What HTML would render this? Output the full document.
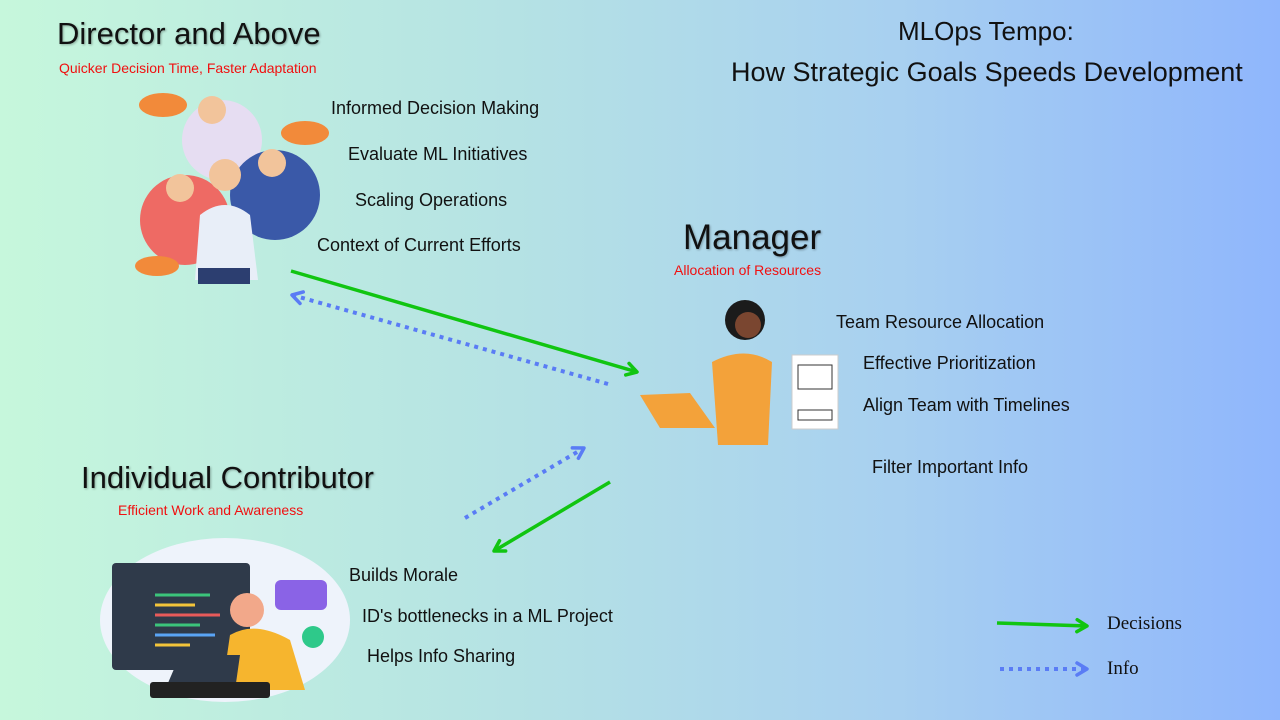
<!DOCTYPE html>
<html><head><meta charset="utf-8"><style>
body{margin:0}
#c{position:relative;width:1280px;height:720px;overflow:hidden;background:linear-gradient(90deg,#c6f7dc 0%,#b5e2e4 40%,#a8d0f0 70%,#8fb6fc 100%);font-family:"Liberation Sans",sans-serif;color:#111}
.t{position:absolute;white-space:nowrap}
.h{font-size:31px;text-shadow:1px 1px 2px rgba(0,0,0,.3)}
.s{font-size:14px;color:#f01010}
.b{font-size:18px}
.lg{font-family:"Liberation Serif",serif;font-size:19px}
</style></head><body><div id="c">
<svg width="1280" height="720" style="position:absolute;left:0;top:0">
<defs>
<marker id="g" markerWidth="16" markerHeight="16" refX="13" refY="8" orient="auto" markerUnits="userSpaceOnUse"><path d="M3,2 L13,8 L3,14" fill="none" stroke="#11c511" stroke-width="3.5" stroke-linecap="round" stroke-linejoin="round"/></marker>
<marker id="bl" markerWidth="16" markerHeight="16" refX="13" refY="8" orient="auto" markerUnits="userSpaceOnUse"><path d="M3,2 L13,8 L3,14" fill="none" stroke="#5a7cf5" stroke-width="3.5" stroke-linecap="round" stroke-linejoin="round"/></marker>
</defs>
<g stroke-width="3.5" fill="none">
<line x1="291" y1="271" x2="637" y2="372" stroke="#11c511" marker-end="url(#g)"/>
<line x1="608" y1="384" x2="292" y2="295" stroke="#5a7cf5" stroke-width="4" stroke-dasharray="4,5" marker-end="url(#bl)"/>
<line x1="465" y1="518" x2="584" y2="448" stroke="#5a7cf5" stroke-width="4" stroke-dasharray="4,5" marker-end="url(#bl)"/>
<line x1="610" y1="482" x2="494" y2="551" stroke="#11c511" marker-end="url(#g)"/>
<line x1="997" y1="623" x2="1087" y2="626" stroke="#11c511" marker-end="url(#g)"/>
<line x1="1000" y1="669" x2="1087" y2="669" stroke="#5a7cf5" stroke-width="4" stroke-dasharray="4,5" marker-end="url(#bl)"/>
</g>
<circle cx="222" cy="140" r="40" fill="#e6ddf2"/>
<circle cx="275" cy="195" r="45" fill="#3a59a8"/>
<circle cx="185" cy="220" r="45" fill="#ee6a64"/>
<ellipse cx="163" cy="105" rx="24" ry="12" fill="#f28a3a"/>
<ellipse cx="305" cy="133" rx="24" ry="12" fill="#f28a3a"/>
<ellipse cx="157" cy="266" rx="22" ry="10" fill="#f28a3a"/>
<circle cx="212" cy="110" r="14" fill="#f2c49b"/>
<circle cx="272" cy="163" r="14" fill="#f2c49b"/>
<circle cx="180" cy="188" r="14" fill="#f2c49b"/>
<circle cx="225" cy="175" r="16" fill="#f2c49b"/>
<path d="M195,280 L200,215 Q225,195 250,215 L258,280 Z" fill="#e8eef8"/>
<rect x="198" y="268" width="52" height="16" fill="#2c3e70"/>
<circle cx="745" cy="320" r="20" fill="#1b1b1b"/>
<circle cx="748" cy="325" r="13" fill="#7a4630"/>
<path d="M712,362 Q745,345 772,362 L768,445 L718,445 Z" fill="#f3a23a"/>
<path d="M640,395 L690,393 L715,428 L660,428 Z" fill="#f3a23a"/>
<rect x="792" y="355" width="46" height="74" fill="#fff" stroke="#ccc"/>
<rect x="798" y="365" width="34" height="24" fill="none" stroke="#333"/>
<rect x="798" y="410" width="34" height="10" fill="none" stroke="#333"/>
<ellipse cx="225" cy="620" rx="125" ry="82" fill="#eef3fb"/>
<rect x="112" y="563" width="138" height="107" rx="4" fill="#2f3a4a"/>
<g stroke-width="3"><line x1="155" y1="595" x2="210" y2="595" stroke="#3bc47b"/><line x1="155" y1="605" x2="195" y2="605" stroke="#f3c43a"/><line x1="155" y1="615" x2="220" y2="615" stroke="#e85a5a"/><line x1="155" y1="625" x2="200" y2="625" stroke="#3bc47b"/><line x1="155" y1="635" x2="215" y2="635" stroke="#5aa4f5"/><line x1="155" y1="645" x2="190" y2="645" stroke="#f3c43a"/></g>
<rect x="275" y="580" width="52" height="30" rx="6" fill="#8a63e6"/>
<circle cx="313" cy="637" r="11" fill="#2ec98a"/>
<circle cx="247" cy="610" r="17" fill="#f2a88a"/>
<path d="M222,690 L230,635 Q255,620 290,640 L305,690 Z" fill="#f6b52e"/>
<path d="M165,690 L180,655 L240,655 L235,690 Z" fill="#2f3a4a"/>
<rect x="150" y="682" width="120" height="16" rx="3" fill="#222"/>
</svg>
<div class="t h" style="left:57px;top:16px">Director and Above</div>
<div class="t s" style="left:59px;top:60px">Quicker Decision Time, Faster Adaptation</div>
<div class="t b" style="left:331px;top:98px">Informed Decision Making</div>
<div class="t b" style="left:348px;top:144px">Evaluate ML Initiatives</div>
<div class="t b" style="left:355px;top:190px">Scaling Operations</div>
<div class="t b" style="left:317px;top:235px">Context of Current Efforts</div>
<div class="t" style="left:898px;top:16px;font-size:26px">MLOps Tempo:</div>
<div class="t" style="left:731px;top:57px;font-size:27px">How Strategic Goals Speeds Development</div>
<div class="t h" style="left:683px;top:218px;font-size:35px">Manager</div>
<div class="t s" style="left:674px;top:262px">Allocation of Resources</div>
<div class="t b" style="left:836px;top:312px">Team Resource Allocation</div>
<div class="t b" style="left:863px;top:353px">Effective Prioritization</div>
<div class="t b" style="left:863px;top:395px">Align Team with Timelines</div>
<div class="t b" style="left:872px;top:457px">Filter Important Info</div>
<div class="t h" style="left:81px;top:460px">Individual Contributor</div>
<div class="t s" style="left:118px;top:502px">Efficient Work and Awareness</div>
<div class="t b" style="left:349px;top:565px">Builds Morale</div>
<div class="t b" style="left:362px;top:606px">ID's bottlenecks in a ML Project</div>
<div class="t b" style="left:367px;top:646px">Helps Info Sharing</div>
<div class="t lg" style="left:1107px;top:613px">Decisions</div>
<div class="t lg" style="left:1107px;top:658px">Info</div>
</div></body></html>
